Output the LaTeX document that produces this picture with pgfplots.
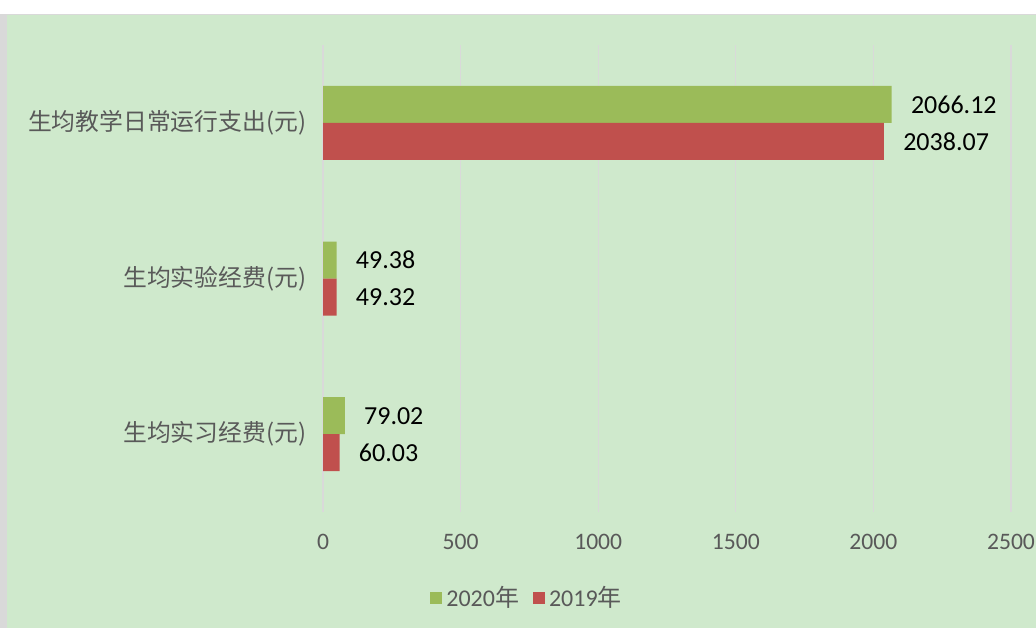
\documentclass[border=0pt]{standalone}
\usepackage{pgfplots}
\pgfplotsset{compat=1.18}
\usepackage{fontspec}
\setmainfont{Carlito}
\newfontfamily\cjk{Noto Sans CJK SC}
\definecolor{bggreen}{HTML}{CFE9CC}
\definecolor{bargreen}{HTML}{9BBB59}
\definecolor{barred}{HTML}{C0504D}
\definecolor{txtgray}{HTML}{595959}
\definecolor{gridgray}{HTML}{D9D9D9}
\begin{document}
\begin{tikzpicture}
\useasboundingbox (0,0) rectangle (518pt,314pt);
\fill[white] (0,0) rectangle (518pt,314pt);
\fill[gridgray] (0,0) rectangle (518pt,307pt);
\fill[bggreen] (3.5pt,0) rectangle (518pt,306.5pt);
\begin{axis}[
  at={(161.5pt,58pt)}, anchor=south west,
  scale only axis, width=344pt, height=233.5pt,
  xbar, bar width=18.5pt,
  xmin=0, xmax=2500, ymin=-0.5, ymax=2.5,
  xtick={0,500,1000,1500,2000,2500},
  ytick={0,1,2},
  yticklabels={{\cjk 生均实习经费(元)},{\cjk 生均实验经费(元)},{\cjk 生均教学日常运行支出(元)}},
  /pgf/number format/assume math mode=true,
  /pgf/number format/1000 sep={},
  axis line style={draw=none},
  major tick style={draw=none},
  xmajorgrids, major grid style={gridgray, line width=0.6pt},
  xticklabel style={anchor=center, yshift=-15pt, font=\fontsize{11.8}{13}\selectfont, text=txtgray},
  yticklabel style={anchor=east, inner sep=0pt, xshift=-4pt, font=\fontsize{11.9}{14}\selectfont, text=txtgray},
  point meta=explicit symbolic,
  nodes near coords,
  nodes near coords style={anchor=west, inner sep=0pt, xshift=9.5pt, font=\fontsize{13}{15}\selectfont, text=black},
  legend style={at={(0.298,-0.184)}, anchor=center, draw=none, fill=none,
    legend columns=2, font=\fontsize{12}{14}\selectfont, text=txtgray,
    /tikz/every even column/.append style={column sep=5pt}},
  legend image code/.code={\fill[#1] (0pt,-3.2pt) rectangle (6pt,3.2pt);},
]
\addplot[draw=none, fill=bargreen, bar shift=9.25pt] coordinates {
  (79.02,0) [79.02]
  (49.38,1) [49.38]
  (2066.12,2) [2066.12]
};
\addplot[draw=none, fill=barred, bar shift=-9.25pt] coordinates {
  (60.03,0) [60.03]
  (49.32,1) [49.32]
  (2038.07,2) [2038.07]
};
\legend{2020{\cjk 年},2019{\cjk 年}}
\end{axis}
\end{tikzpicture}
\end{document}
